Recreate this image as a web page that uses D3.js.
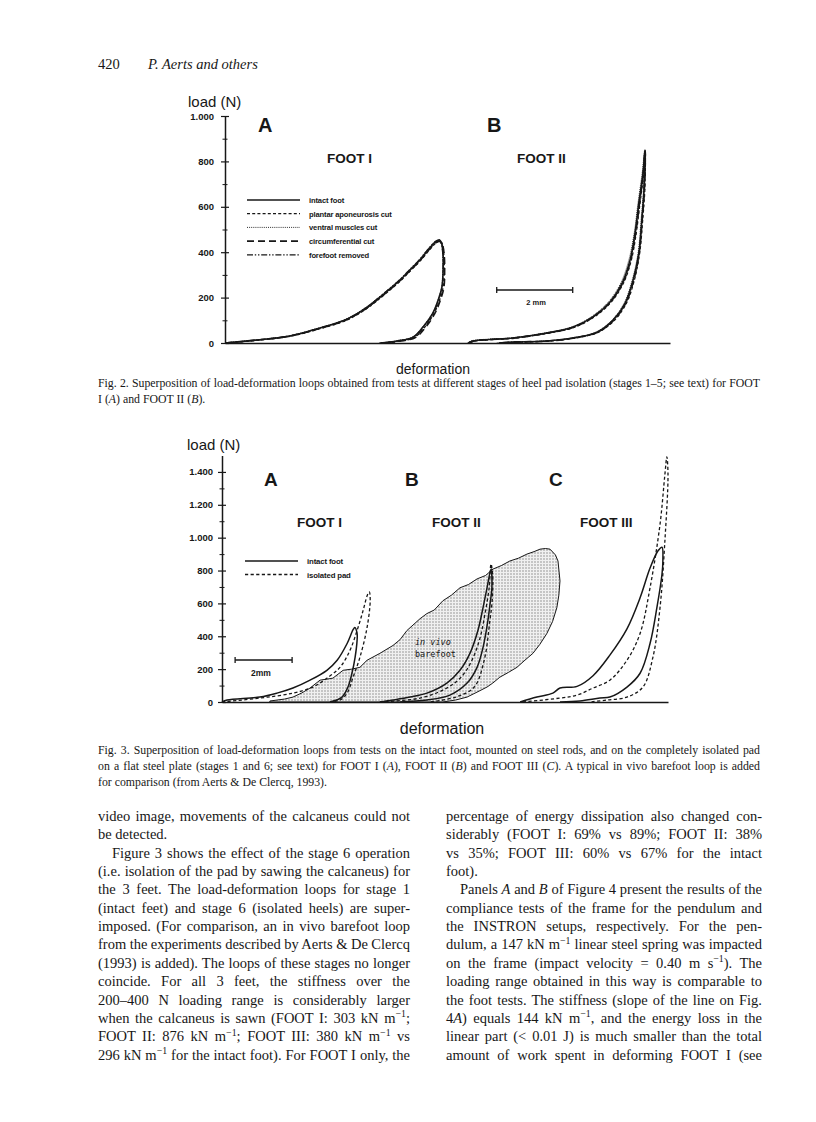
<!DOCTYPE html>
<html><head><meta charset="utf-8">
<script src="https://cdn.jsdelivr.net/npm/d3@7"></script>
<style>
html,body{margin:0;padding:0;background:#fff;}
svg{display:block;}
</style></head><body>
<svg id="page" width="816" height="1122"></svg>
<script>
// ---------------- DATA ----------------
// Fig. 2 : load (N) vs deformation (mm)
const fig2Major = [0, 200, 400, 600, 800, 1000];
const fig2MajorLabels = ["0", "200", "400", "600", "800", "1.000"];
const fig2Minor = [100, 300, 500, 700, 900];
const fig2SeriesNames = ["intact foot", "plantar aponeurosis cut", "ventral muscles cut", "circumferential cut", "forefoot removed"];

const f2A_intact   = [[0,0],[0.84,13],[1.71,31],[2.5,66],[3.16,101],[3.68,150],[4.21,220],[4.61,278],[4.87,322],[5.13,366],[5.39,419],[5.55,448],[5.64,455],[5.7,440],[5.74,388],[5.74,322],[5.71,247],[5.61,189],[5.47,132],[5.21,70],[4.95,26],[4.53,9],[4.08,0]];
const f2A_plantar  = [[0,0],[0.86,12],[1.73,30],[2.52,64],[3.18,99],[3.7,148],[4.23,218],[4.63,276],[4.89,320],[5.15,364],[5.41,416],[5.57,444],[5.66,450],[5.72,436],[5.76,386],[5.77,320],[5.74,245],[5.64,186],[5.5,130],[5.25,68],[4.99,25],[4.58,8],[4.12,0]];
const f2A_ventral  = [[0,0],[0.82,14],[1.69,32],[2.48,67],[3.14,102],[3.66,152],[4.19,222],[4.59,280],[4.85,324],[5.11,368],[5.37,421],[5.53,449],[5.62,452],[5.69,438],[5.73,390],[5.73,324],[5.7,249],[5.6,190],[5.46,133],[5.2,71],[4.93,27],[4.5,9],[4.05,0]];
const f2A_circ     = [[0,0],[0.85,13],[1.72,31],[2.51,65],[3.17,100],[3.69,149],[4.22,219],[4.62,277],[4.88,321],[5.14,365],[5.4,417],[5.56,443],[5.65,447],[5.72,434],[5.77,384],[5.78,318],[5.76,244],[5.66,185],[5.52,129],[5.27,67],[5.01,24],[4.6,8],[4.15,0]];
const f2A_forefoot = [[0,0],[0.83,13],[1.7,31],[2.49,66],[3.15,101],[3.67,151],[4.2,221],[4.6,279],[4.86,323],[5.12,367],[5.38,420],[5.54,446],[5.63,450],[5.69,437],[5.73,389],[5.74,323],[5.71,248],[5.62,188],[5.48,131],[5.23,69],[4.97,26],[4.55,9],[4.1,0]];

const f2B_intact   = [[6.4,0],[6.53,9],[7.58,22],[8.47,44],[9.16,70],[9.68,115],[10.13,181],[10.45,264],[10.66,366],[10.79,485],[10.89,617],[11.0,749],[11.05,850],[11.03,687],[10.97,542],[10.89,396],[10.74,278],[10.53,176],[10.21,101],[9.79,48],[9.16,22],[8.47,9],[7.58,4],[7.2,0]];
const f2B_plantar  = [[6.45,0],[6.56,8],[7.61,21],[8.5,43],[9.19,69],[9.71,114],[10.16,180],[10.48,262],[10.69,364],[10.82,483],[10.92,615],[11.02,745],[11.06,840],[11.05,684],[10.99,540],[10.91,394],[10.77,276],[10.56,174],[10.24,99],[9.82,47],[9.19,21],[8.5,8],[7.61,3],[7.25,0]];
const f2B_ventral  = [[6.38,0],[6.5,10],[7.55,23],[8.44,45],[9.13,71],[9.65,117],[10.1,183],[10.42,266],[10.63,368],[10.77,487],[10.87,619],[10.98,752],[11.04,846],[11.02,690],[10.95,545],[10.87,398],[10.72,280],[10.51,178],[10.19,102],[9.77,49],[9.14,22],[8.45,9],[7.55,4],[7.15,0]];
const f2B_circ     = [[6.42,0],[6.55,9],[7.6,22],[8.49,44],[9.18,70],[9.7,116],[10.15,182],[10.47,265],[10.68,367],[10.81,486],[10.91,618],[11.01,748],[11.06,848],[11.04,688],[10.98,543],[10.9,397],[10.76,279],[10.55,177],[10.23,100],[9.81,48],[9.18,22],[8.49,9],[7.6,4],[7.22,0]];
const f2B_forefoot = [[6.41,0],[6.54,9],[7.59,22],[8.48,44],[9.17,70],[9.69,115],[10.14,181],[10.46,264],[10.67,366],[10.8,485],[10.9,617],[11.0,748],[11.05,846],[11.03,686],[10.97,541],[10.89,395],[10.75,277],[10.54,175],[10.22,100],[9.8,48],[9.17,22],[8.48,9],[7.59,4],[7.21,0]];

// Fig. 3
const fig3Major = [0, 200, 400, 600, 800, 1000, 1200, 1400];
const fig3MajorLabels = ["0", "200", "400", "600", "800", "1.000", "1.200", "1.400"];
const fig3Minor = [100, 300, 500, 700, 900, 1100, 1300];
const fig3SeriesNames = ["intact foot", "isolated pad"];

const f3A_intact   = [[0,0],[0.18,12],[1.33,30],[1.93,54],[2.49,85],[3.09,133],[3.68,193],[4.04,254],[4.39,356],[4.6,440],[4.66,453],[4.74,417],[4.74,375],[4.67,272],[4.56,175],[4.42,91],[4.21,30],[3.79,0]];
const f3A_isolated = [[0,0],[1.33,24],[2.49,54],[3.19,91],[3.68,145],[4.14,211],[4.49,314],[4.74,435],[4.95,556],[5.1,650],[5.17,670],[5.2,616],[5.09,453],[4.84,272],[4.6,151],[4.39,54],[4.14,12],[3.79,0]];
const f3B_intact   = [[5.54,0],[6.0,12],[6.6,30],[7.19,54],[7.89,115],[8.35,193],[8.7,296],[8.98,435],[9.16,574],[9.3,695],[9.44,809],[9.47,695],[9.4,590],[9.33,495],[9.16,332],[8.95,211],[8.6,115],[8.0,42],[7.19,12],[6.25,0]];
const f3B_isolated = [[5.54,0],[6.95,24],[7.89,85],[8.42,157],[8.77,254],[9.05,387],[9.23,538],[9.37,689],[9.44,840],[9.5,767],[9.48,616],[9.4,495],[9.2,254],[8.85,91],[8.2,30],[7.3,0]];
const f3C_intact   = [[10.46,0],[11.05,30],[11.61,54],[11.86,85],[12.46,95],[13.02,160],[13.61,285],[14.21,445],[14.67,634],[15.02,815],[15.3,920],[15.44,942],[15.47,858],[15.44,779],[15.26,574],[15.02,356],[14.67,175],[14.21,91],[13.61,30],[13.26,24],[12.56,6],[11.86,0]];
const f3C_isolated = [[10.56,0],[11.86,24],[12.46,42],[13.02,85],[13.61,133],[14.21,254],[14.67,417],[15.02,695],[15.37,1081],[15.54,1383],[15.61,1492],[15.65,1383],[15.54,978],[15.37,574],[15.12,272],[14.77,91],[14.21,30],[13.51,12],[12.91,0]];
const f3_invivo    = [[1.68,0],[1.68,6],[2.2,18],[2.49,30],[2.8,55],[3.09,85],[3.44,133],[3.89,145],[4.25,193],[4.55,200],[4.84,211],[5.09,254],[5.54,296],[6.0,344],[6.25,380],[6.49,435],[6.95,507],[7.19,538],[7.45,560],[7.75,616],[8.05,650],[8.35,695],[8.65,715],[8.95,749],[9.25,770],[9.51,809],[9.8,830],[10.1,858],[10.4,875],[10.7,900],[10.95,915],[11.16,930],[11.35,934],[11.51,930],[11.7,895],[11.79,858],[11.86,737],[11.82,650],[11.75,574],[11.6,490],[11.4,417],[11.15,350],[10.91,296],[10.6,250],[10.35,211],[10.05,180],[9.75,151],[9.5,115],[9.3,91],[8.95,60],[8.6,30],[8.2,12],[7.75,0]];

// Body text
const pageHeader = ["420", "P. Aerts and others"];
const fig2Caption = [
  "Fig. 2. Superposition of load-deformation loops obtained from tests at different stages of heel pad isolation (stages 1–5; see text) for FOOT",
  "I (*A*) and FOOT II (*B*)."
];
const fig3Caption = [
  "Fig. 3. Superposition of load-deformation loops from tests on the intact foot, mounted on steel rods, and on the completely isolated pad",
  "on a flat steel plate (stages 1 and 6; see text) for FOOT I (*A*), FOOT II (*B*) and FOOT III (*C*). A typical in vivo barefoot loop is added",
  "for comparison (from Aerts & De Clercq, 1993)."
];
const leftColumn = [
  ["video image, movements of the calcaneus could not", 1, 0],
  ["be detected.", 0, 0],
  ["Figure 3 shows the effect of the stage 6 operation", 1, 1],
  ["(i.e. isolation of the pad by sawing the calcaneus) for", 1, 0],
  ["the 3 feet. The load-deformation loops for stage 1", 1, 0],
  ["(intact feet) and stage 6 (isolated heels) are super-", 1, 0],
  ["imposed. (For comparison, an in vivo barefoot loop", 1, 0],
  ["from the experiments described by Aerts & De Clercq", 1, 0],
  ["(1993) is added). The loops of these stages no longer", 1, 0],
  ["coincide. For all 3 feet, the stiffness over the", 1, 0],
  ["200–400 N loading range is considerably larger", 1, 0],
  ["when the calcaneus is sawn (FOOT I: 303 kN m^{−1};", 1, 0],
  ["FOOT II: 876 kN m^{−1}; FOOT III: 380 kN m^{−1} vs", 1, 0],
  ["296 kN m^{−1} for the intact foot). For FOOT I only, the", 1, 0]
];
const rightColumn = [
  ["percentage of energy dissipation also changed con-", 1, 0],
  ["siderably (FOOT I: 69% vs 89%; FOOT II: 38%", 1, 0],
  ["vs 35%; FOOT III: 60% vs 67% for the intact", 1, 0],
  ["foot).", 0, 0],
  ["Panels *A* and *B* of Figure 4 present the results of the", 1, 1],
  ["compliance tests of the frame for the pendulum and", 1, 0],
  ["the INSTRON setups, respectively. For the pen-", 1, 0],
  ["dulum, a 147 kN m^{−1} linear steel spring was impacted", 1, 0],
  ["on the frame (impact velocity = 0.40 m s^{−1}). The", 1, 0],
  ["loading range obtained in this way is comparable to", 1, 0],
  ["the foot tests. The stiffness (slope of the line on Fig.", 1, 0],
  ["4*A*) equals 144 kN m^{−1}, and the energy loss in the", 1, 0],
  ["linear part (< 0.01 J) is much smaller than the total", 1, 0],
  ["amount of work spent in deforming FOOT I (see", 1, 0]
];

// ---------------- DRAWING ----------------
const svg = d3.select("#page");
const ink = "#171717";
const SANS = "'Liberation Sans', Arial, sans-serif";
const SERIF = "'Liberation Serif', 'Times New Roman', serif";

svg.append("rect").attr("width", 816).attr("height", 1122).attr("fill", "#fff");

const defs = svg.append("defs");
const pat = defs.append("pattern").attr("id", "stipple").attr("width", 3).attr("height", 3)
  .attr("patternUnits", "userSpaceOnUse");
pat.append("rect").attr("width", 3).attr("height", 3).attr("fill", "#f0f0f0");
pat.append("circle").attr("cx", 1).attr("cy", 1).attr("r", 0.7).attr("fill", "#7a7a7a");

function richText(g, str, x, y, size, width, justify) {
  const t = g.append("text").attr("x", x).attr("y", y).attr("font-size", size)
    .attr("font-family", SERIF).attr("fill", ink);
  const parts = str.split(/(\^\{[^}]*\}|\*[^*]*\*)/).filter(s => s.length);
  let raised = false;
  parts.forEach(p => {
    if (p.startsWith("^{")) {
      t.append("tspan").attr("font-size", size * 0.68).attr("dy", -size * 0.38).text(p.slice(2, -1));
      raised = true;
    } else {
      const ts = t.append("tspan");
      if (raised) { ts.attr("dy", size * 0.38); raised = false; }
      if (p.startsWith("*")) ts.attr("font-style", "italic").text(p.slice(1, -1));
      else ts.text(p);
    }
  });
  if (justify) {
    const natural = t.node().getComputedTextLength();
    const spaces = (str.match(/ /g) || []).length;
    if (spaces > 0) t.style("word-spacing", ((width - natural) / spaces) + "px");
  }
  return t;
}

// header
svg.append("text").attr("x", 98).attr("y", 69).attr("font-family", SERIF).attr("font-size", 14.5)
  .attr("fill", ink).text(pageHeader[0]);
svg.append("text").attr("x", 148).attr("y", 69).attr("font-family", SERIF).attr("font-size", 14.5)
  .attr("font-style", "italic").attr("fill", ink).text(pageHeader[1]);

function yAxis(g, y, xPos, major, labels, minor, pad) {
  const a = g.append("g").attr("transform", `translate(${xPos},0)`)
    .call(d3.axisLeft(y).tickValues(major).tickFormat((d, i) => labels[i]).tickSizeInner(4).tickSizeOuter(0).tickPadding(pad));
  a.select(".domain").attr("stroke", ink).attr("stroke-width", 1.5);
  a.selectAll(".tick line").attr("x1", 4).attr("stroke", ink).attr("stroke-width", 1.2);
  a.selectAll(".tick text").attr("font-family", SANS).attr("font-weight", "bold").attr("font-size", 9.5).attr("fill", ink);
  const m = g.append("g").attr("transform", `translate(${xPos},0)`)
    .call(d3.axisLeft(y).tickValues(minor).tickFormat("").tickSizeInner(2.5).tickSizeOuter(0));
  m.select(".domain").remove();
  m.selectAll(".tick line").attr("x1", 2.5).attr("stroke", ink).attr("stroke-width", 1);
}
function xAxis(g, x, yPos) {
  const a = g.append("g").attr("transform", `translate(0,${yPos})`)
    .call(d3.axisBottom(x).tickValues([]).tickSizeOuter(0));
  a.select(".domain").attr("stroke", ink).attr("stroke-width", 1.6);
}
function label(g, txt, x, y, size, weight, anchor) {
  return g.append("text").attr("x", x).attr("y", y).attr("font-family", SANS).attr("font-size", size)
    .attr("font-weight", weight || "normal").attr("text-anchor", anchor || "start").attr("fill", ink).text(txt);
}
function scaleBar(g, x, x0, y, lbl, lx, ly, fs) {
  g.append("line").attr("x1", x(x0)).attr("x2", x(x0 + 2)).attr("y1", y).attr("y2", y).attr("stroke", ink).attr("stroke-width", 1.3);
  [x0, x0 + 2].forEach(v => g.append("line").attr("x1", x(v)).attr("x2", x(v)).attr("y1", y - 3).attr("y2", y + 3).attr("stroke", ink).attr("stroke-width", 1.3));
  label(g, lbl, lx, ly, fs, "bold", "middle");
}

// ---------- Fig 2 ----------
const g2 = svg.append("g");
const x2 = d3.scaleLinear().domain([0, 11.71]).range([225, 670]);
const y2 = d3.scaleLinear().domain([0, 1000]).range([343, 116]);
yAxis(g2, y2, x2(0), fig2Major, fig2MajorLabels, fig2Minor, 7);
xAxis(g2, x2, y2(0));
label(g2, "load (N)", 188, 107, 15);
label(g2, "deformation", 433, 374, 14, "normal", "middle");
label(g2, "A", 258, 132, 20, "bold");
label(g2, "B", 487, 132, 20, "bold");
label(g2, "FOOT I", 327, 163, 13.5, "bold");
label(g2, "FOOT II", 517, 163, 13.5, "bold");

const styles2 = [
  { dash: null, w: 1.6 },
  { dash: "3,2.2", w: 1.3 },
  { dash: "1,1.1", w: 0.9 },
  { dash: "7,4", w: 1.6 },
  { dash: "6,1.8,1.4,1.8,1.4,1.8", w: 1.2 }
];
const line2 = d3.line().x(d => x2(d[0])).y(d => y2(d[1])).curve(d3.curveCatmullRom.alpha(0.5));
const fig2A = [f2A_intact, f2A_plantar, f2A_ventral, f2A_circ, f2A_forefoot];
const fig2B = [f2B_intact, f2B_plantar, f2B_ventral, f2B_circ, f2B_forefoot];
[4, 3, 2, 1, 0].forEach(i => {
  [fig2A[i], fig2B[i]].forEach(ser => {
    g2.append("path").attr("d", line2(ser)).attr("fill", "none").attr("stroke", ink)
      .attr("stroke-width", styles2[i].w).attr("stroke-dasharray", styles2[i].dash);
  });
});
// legend
fig2SeriesNames.forEach((n, i) => {
  const ly = 200 + i * 13.7;
  g2.append("line").attr("x1", 247).attr("x2", 300).attr("y1", ly).attr("y2", ly).attr("stroke", ink)
    .attr("stroke-width", styles2[i].w).attr("stroke-dasharray", styles2[i].dash);
  label(g2, n, 309, ly + 3, 7.6, "bold").attr("letter-spacing", -0.15);
});
scaleBar(g2, x2, 7.15, 290, "2 mm", 536, 305, 7.5);

// ---------- Fig 3 ----------
const g3 = svg.append("g");
const x3 = d3.scaleLinear().domain([0, 15.65]).range([222, 668]);
const y3 = d3.scaleLinear().domain([0, 1500]).range([702, 455.5]);

// in vivo loop (shaded) first
g3.append("path").attr("d", d3.line().x(d => x3(d[0])).y(d => y3(d[1])).curve(d3.curveLinear)(f3_invivo) + "Z")
  .attr("fill", "url(#stipple)").attr("stroke", ink).attr("stroke-width", 1);
label(g3, "in vivo", 415, 645, 8.5, "normal").attr("font-family", "'DejaVu Sans Mono', monospace").attr("font-style", "italic");
label(g3, "barefoot", 415, 657, 8.5, "normal").attr("font-family", "'DejaVu Sans Mono', monospace");

yAxis(g3, y3, x3(0), fig3Major, fig3MajorLabels, fig3Minor, 5);
xAxis(g3, x3, y3(0));
label(g3, "load (N)", 187, 450, 15);
label(g3, "deformation", 442, 734, 16, "normal", "middle");
label(g3, "A", 264, 486, 19, "bold");
label(g3, "B", 405, 486, 19, "bold");
label(g3, "C", 549, 486, 19, "bold");
label(g3, "FOOT I", 297, 527, 13.5, "bold");
label(g3, "FOOT II", 432, 527, 13.5, "bold");
label(g3, "FOOT III", 580, 527, 13.5, "bold");

const styles3 = [{ dash: null, w: 1.5 }, { dash: "3.2,2.4", w: 1.3 }];
const line3 = d3.line().x(d => x3(d[0])).y(d => y3(d[1])).curve(d3.curveCatmullRom.alpha(0.5));
[[f3A_intact, f3A_isolated], [f3B_intact, f3B_isolated], [f3C_intact, f3C_isolated]].forEach(pair => {
  [1, 0].forEach(i => {
    g3.append("path").attr("d", line3(pair[i])).attr("fill", "none").attr("stroke", ink)
      .attr("stroke-width", styles3[i].w).attr("stroke-dasharray", styles3[i].dash);
  });
});
fig3SeriesNames.forEach((n, i) => {
  const ly = 561 + i * 13.5;
  g3.append("line").attr("x1", 245).attr("x2", 298).attr("y1", ly).attr("y2", ly).attr("stroke", ink)
    .attr("stroke-width", styles3[i].w).attr("stroke-dasharray", styles3[i].dash);
  label(g3, n, 307, ly + 3, 7.8, "bold").attr("letter-spacing", -0.15);
});
scaleBar(g3, x3, 0.46, 660, "2mm", 261, 676, 8.5);

// ---------- captions & body text ----------
const gt = svg.append("g");
fig2Caption.forEach((s, i) => richText(gt, s, 98, 387 + i * 16, 11.8, 662, i === 0));
fig3Caption.forEach((s, i) => richText(gt, s, 98, 754 + i * 16, 11.8, 662, i < 2));
leftColumn.forEach((l, i) => {
  const ind = l[2] ? 14 : 0;
  richText(gt, l[0], 98 + ind, 821 + i * 18.35, 14.5, 312 - ind, !!l[1]);
});
rightColumn.forEach((l, i) => {
  const ind = l[2] ? 14 : 0;
  richText(gt, l[0], 446 + ind, 821 + i * 18.35, 14.5, 316 - ind, !!l[1]);
});
</script>
</body></html>
